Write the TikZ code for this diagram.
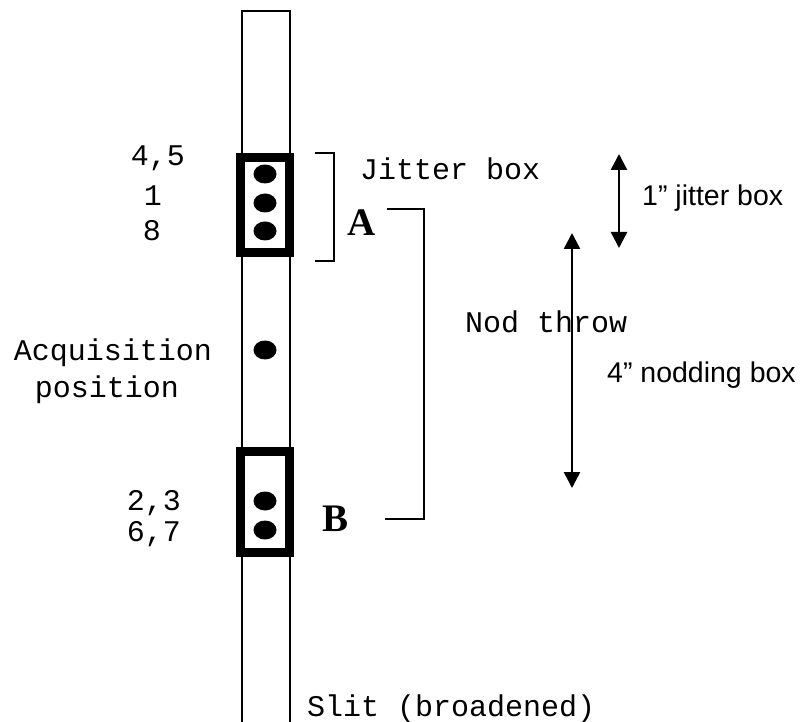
\documentclass[tikz,border=0pt]{standalone}
\usepackage{fontspec}
\setmainfont{Liberation Serif}
\setsansfont{Liberation Sans}
\setmonofont{Liberation Mono}
\usepackage{tikz}
\usetikzlibrary{arrows.meta}

\tikzset{
  monotext/.style={font=\ttfamily\fontsize{30}{30}\selectfont, inner sep=0pt},
  sanstext/.style={font=\sffamily\fontsize{28.5}{28.5}\selectfont, inner sep=0pt},
  posletter/.style={font=\rmfamily\bfseries\fontsize{39}{39}\selectfont, inner sep=0pt, anchor=base},
  framebox/.style={line width=9pt},
  thinline/.style={line width=2pt},
  sizearrow/.style={line width=2.5pt, {Triangle[width=16pt,length=16pt]}-{Triangle[width=16pt,length=16pt]}}
}

\begin{document}
\begin{tikzpicture}[x=1pt, y=-1pt]
  \useasboundingbox (0,0) rectangle (804,722);

  % Slit
  \draw[thinline] (242,722) -- (242,11) -- (290,11) -- (290,722);

  % Boxes A and B
  \draw[framebox, fill=white] (240,158) rectangle (289.5,253);
  \draw[framebox, fill=white] (240,451) rectangle (289.5,552);

  % Dots
  \foreach \y in {174, 203, 231, 350, 501, 530} {
    \fill (265,\y) ellipse (11.5pt and 9.5pt);
  }

  % Exposure numbers
  \node[monotext, anchor=base] (n45) at (158,166) {4,5};
  \node[monotext, anchor=base] (n1) at (153,206) {1};
  \node[monotext, anchor=base] (n8) at (152,241) {8};
  \node[monotext, anchor=base] (n23) at (154,510) {2,3};
  \node[monotext, anchor=base] (n67) at (154,541) {6,7};
  \node[monotext, anchor=base] (acq) at (113,360) {Acquisition};
  \node[monotext, anchor=base] (pos) at (107,397) {position};

  % Brackets
  \draw[thinline] (315,153) -- (334,153) -- (334,261) -- (315,261);
  \draw[thinline] (387,209) -- (424,209) -- (424,519) -- (385,519);
  \node[monotext, anchor=base west] (jitter) at (360,180) {Jitter box};
  \node[posletter] (posA) at (362,236) {A};
  \node[posletter] (posB) at (336,531) {B};
  \node[monotext, anchor=base west] (throw) at (465,333) {Nod throw};
  \node[monotext, anchor=base west] (slit) at (307,716) {Slit (broadened)};

  % Box sizes
  \coordinate (jtop) at (619,154);
  \coordinate (jbot) at (619,248);
  \coordinate (ntop) at (572,233);
  \coordinate (nbot) at (572,488);
  \draw[sizearrow] (jtop) -- (jbot);
  \draw[sizearrow] (ntop) -- (nbot);
  \node[sanstext, anchor=base west] (jsize) at (642,206) {1” jitter box};
  \node[sanstext, anchor=base west] (nsize) at (607,382) {4” nodding box};

\end{tikzpicture}
\end{document}
